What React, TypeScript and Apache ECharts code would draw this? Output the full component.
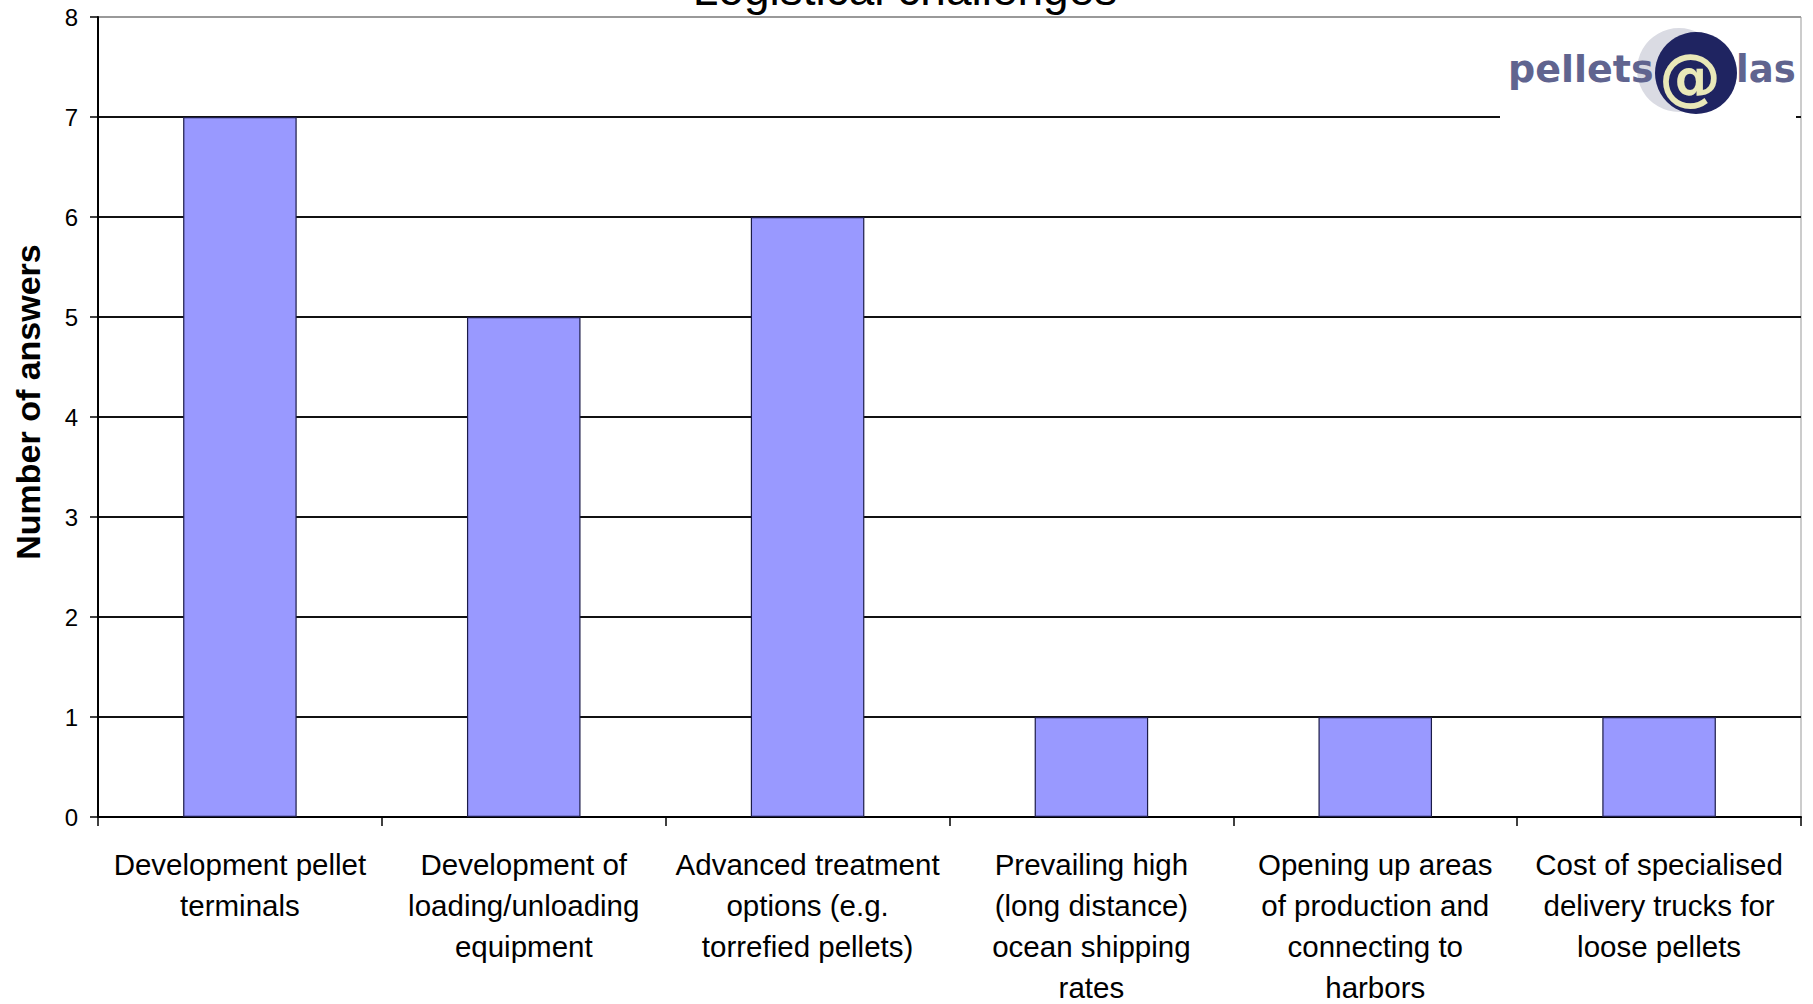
import React, { useEffect, useRef } from "react";
import * as echarts from "echarts";

const categories = [
  "Development pellet\nterminals",
  "Development of\nloading/unloading\nequipment",
  "Advanced treatment\noptions (e.g.\ntorrefied pellets)",
  "Prevailing high\n(long distance)\nocean shipping\nrates",
  "Opening up areas\nof production and\nconnecting to\nharbors",
  "Cost of specialised\ndelivery trucks for\nloose pellets",
];
const answers = [7, 5, 6, 1, 1, 1];
const chartTitle = "Logistical challenges";
const yAxisTitle = "Number of answers";

export default function App() {
  const ref = useRef<HTMLDivElement>(null);
  useEffect(() => {
    if (!ref.current) return;
    const chart = echarts.init(ref.current, null, { renderer: "svg" });
    const gridColors = ["#111", "#111", "#111", "#111", "#111", "#111", "#111", "#111", "#999"];
    chart.setOption({
      animation: false,
      backgroundColor: "#fff",
      grid: {
        left: 98,
        top: 17,
        right: 12,
        bottom: 187,
        containLabel: false,
        outerBoundsMode: "none",
        show: true,
        borderColor: "#999",
        borderWidth: 1,
        backgroundColor: "transparent",
      },
      xAxis: {
        type: "category",
        data: categories,
        axisLine: { lineStyle: { color: "#000", width: 2 } },
        axisTick: { show: true, interval: 0, length: 9, alignWithLabel: false, lineStyle: { color: "#000", width: 1.5 } },
        axisLabel: {
          interval: 0,
          margin: 27,
          color: "#000",
          fontFamily: "Liberation Sans, Arial, sans-serif",
          fontSize: 29.5,
          lineHeight: 41,
        },
      },
      yAxis: {
        type: "value",
        min: 0,
        max: 8,
        interval: 1,
        axisLine: { show: true, lineStyle: { color: "#000", width: 2 } },
        axisTick: { show: true, length: 8, lineStyle: { color: "#000", width: 1.5 } },
        axisLabel: {
          margin: 20,
          color: "#000",
          fontFamily: "Liberation Sans, Arial, sans-serif",
          fontSize: 24,
        },
        splitLine: { show: true, lineStyle: { color: gridColors, width: 2 } },
      },
      series: [
        {
          type: "bar",
          data: answers,
          barWidth: "40%",
          itemStyle: { color: "#9999FF", borderColor: "#1c1c48", borderWidth: 1.2 },
          z: 3,
        },
      ],
      graphic: [
        {
          type: "text",
          z: 10,
          x: 905,
          y: 12,
          style: {
            text: chartTitle,
            align: "center",
            verticalAlign: "bottom",
            font: "46px 'Liberation Sans', Arial, sans-serif",
            fill: "#000",
          },
        },
        {
          type: "text",
          z: 10,
          x: 28,
          y: 402,
          rotation: Math.PI / 2,
          style: {
            text: yAxisTitle,
            align: "center",
            verticalAlign: "middle",
            font: "bold 34px 'Liberation Sans', Arial, sans-serif",
            fill: "#000",
          },
        },
        {
          type: "rect",
          z: 20,
          shape: { x: 1500, y: 32, width: 296, height: 92 },
          style: { fill: "#fff" },
        },
        {
          type: "circle",
          z: 21,
          shape: { cx: 1679, cy: 70, r: 42 },
          style: { fill: "#dadbe3" },
        },
        {
          type: "circle",
          z: 22,
          shape: { cx: 1696, cy: 73, r: 41 },
          style: { fill: "#1f2461" },
        },
        {
          type: "text",
          z: 23,
          x: 1690,
          y: 76,
          style: {
            text: "@",
            align: "center",
            verticalAlign: "middle",
            font: "bold 62px 'DejaVu Sans', sans-serif",
            fill: "#e9e8b8",
          },
        },
        {
          type: "text",
          z: 24,
          x: 1508,
          y: 88,
          style: {
            text: "pellets",
            align: "left",
            verticalAlign: "bottom",
            font: "bold 38px 'DejaVu Sans', sans-serif",
            fill: "#60648f",
          },
        },
        {
          type: "text",
          z: 24,
          x: 1736,
          y: 88,
          style: {
            text: "las",
            align: "left",
            verticalAlign: "bottom",
            font: "bold 37px 'DejaVu Sans', sans-serif",
            fill: "#60648f",
          },
        },
      ],
    });
    return () => chart.dispose();
  }, []);
  return (
    <div
      ref={ref}
      style={{ position: "absolute", left: 0, top: 0, width: 1813, height: 1004 }}
    />
  );
}
